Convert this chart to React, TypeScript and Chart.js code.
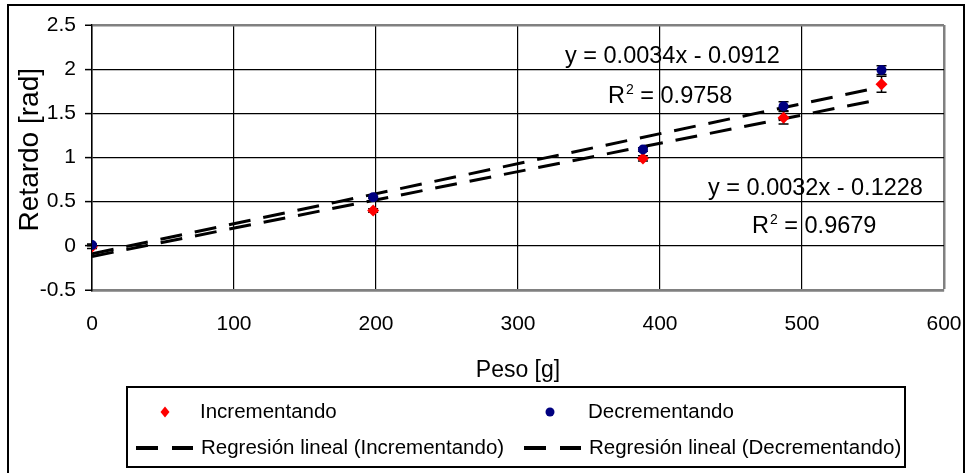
import React, { useEffect, useRef } from "react";
import { Chart, registerables } from "chart.js";

Chart.register(...registerables);

// ---- data ----
const weights = [0, 198, 388, 487, 556];
const incValues = [-0.01, 0.4, 0.99, 1.45, 1.83];
const decValues = [0.01, 0.55, 1.09, 1.58, 1.99];
const incErrors = [0.02, 0.02, 0.03, 0.07, 0.09];
const decErrors = [0.01, 0.01, 0.02, 0.05, 0.05];
const regX = [0, 556];
const regIncValues = [-0.12, 1.66];
const regDecValues = [-0.09, 1.8];
const yTickValues = [-0.5, 0, 0.5, 1, 1.5, 2, 2.5];
const yTickLabels = ["-0.5", "0", "0.5", "1", "1.5", "2", "2.5"];
const xTickValues = [0, 100, 200, 300, 400, 500, 600];
const xTickLabels = ["0", "100", "200", "300", "400", "500", "600"];
const seriesNames = [
  "Incrementando",
  "Decrementando",
  "Regresión lineal (Incrementando)",
  "Regresión lineal (Decrementando)",
];
const eqDec = ["y = 0.0034x - 0.0912", "0.9758"];
const eqInc = ["y = 0.0032x - 0.1228", "0.9679"];
const xTitle = "Peso [g]";
const yTitle = "Retardo [rad]";

const FONT = '"Liberation Sans", Arial, Helvetica, sans-serif';
const RED = "#ff0000";
const BLUE = "#000080";
const GRAY = "#808080";

function drawR2(ctx: CanvasRenderingContext2D, x: number, y: number, value: string, size: number) {
  ctx.textAlign = "left";
  ctx.textBaseline = "middle";
  ctx.font = `${size}px ${FONT}`;
  ctx.fillText("R", x, y);
  const w = ctx.measureText("R").width;
  const sup = Math.round(size * 0.6);
  ctx.font = `${sup}px ${FONT}`;
  ctx.fillText("2", x + w + 1, y - size * 0.3);
  const w2 = ctx.measureText("2").width;
  ctx.font = `${size}px ${FONT}`;
  ctx.fillText(" = " + value, x + w + 1 + w2, y);
}

const errorBarPlugin = {
  id: "errorBars",
  beforeDatasetsDraw(chart: any) {
    const { ctx, scales } = chart;
    const x = scales.x;
    const y = scales.y;
    ctx.save();
    ctx.strokeStyle = "#000";
    ctx.lineWidth = 1.5;
    const draw = (vals: number[], errs: number[]) => {
      weights.forEach((w, i) => {
        const px = x.getPixelForValue(w);
        const top = y.getPixelForValue(vals[i] + errs[i]);
        const bot = y.getPixelForValue(vals[i] - errs[i]);
        ctx.beginPath();
        ctx.moveTo(px, top);
        ctx.lineTo(px, bot);
        ctx.moveTo(px - 5, top);
        ctx.lineTo(px + 5, top);
        ctx.moveTo(px - 5, bot);
        ctx.lineTo(px + 5, bot);
        ctx.stroke();
      });
    };
    draw(incValues, incErrors);
    draw(decValues, decErrors);
    ctx.restore();
  },
};

const decorPlugin = {
  id: "decor",
  afterDraw(chart: any) {
    const ctx: CanvasRenderingContext2D = chart.ctx;
    ctx.save();
    ctx.fillStyle = "#000";

    // regression equations
    const eqSize = 23.5;
    ctx.font = `${eqSize}px ${FONT}`;
    ctx.textAlign = "left";
    ctx.textBaseline = "middle";
    ctx.fillText(eqDec[0], 565, 57);
    drawR2(ctx, 608, 97, eqDec[1], eqSize);
    ctx.font = `${eqSize}px ${FONT}`;
    ctx.fillText(eqInc[0], 708, 189);
    drawR2(ctx, 752, 227, eqInc[1], eqSize);

    // legend box
    ctx.strokeStyle = "#000";
    ctx.lineWidth = 2;
    ctx.strokeRect(127, 387, 905 - 127, 467 - 387);

    const r1 = 412;
    const r2 = 448;
    // red diamond
    ctx.fillStyle = RED;
    ctx.beginPath();
    ctx.moveTo(165, r1 - 5.5);
    ctx.lineTo(169.5, r1);
    ctx.lineTo(165, r1 + 5.5);
    ctx.lineTo(160.5, r1);
    ctx.closePath();
    ctx.fill();
    // blue circle
    ctx.fillStyle = BLUE;
    ctx.beginPath();
    ctx.arc(550, r1, 4.5, 0, Math.PI * 2);
    ctx.fill();
    // dashed samples
    ctx.strokeStyle = "#000";
    ctx.lineWidth = 4;
    ctx.beginPath();
    ctx.moveTo(136, r2);
    ctx.lineTo(158, r2);
    ctx.moveTo(172, r2);
    ctx.lineTo(193, r2);
    ctx.moveTo(524, r2);
    ctx.lineTo(546, r2);
    ctx.moveTo(560, r2);
    ctx.lineTo(581, r2);
    ctx.stroke();

    ctx.fillStyle = "#000";
    ctx.font = `20.5px ${FONT}`;
    ctx.textAlign = "left";
    ctx.textBaseline = "middle";
    ctx.fillText(seriesNames[0], 200, r1);
    ctx.fillText(seriesNames[1], 588, r1);
    ctx.fillText(seriesNames[2], 201, r2);
    ctx.fillText(seriesNames[3], 589, r2);

    // outer chart frame
    ctx.lineWidth = 2;
    ctx.strokeRect(8, 5, 964 - 8, 480);
    ctx.restore();
  },
};

export default function App() {
  const canvasRef = useRef<HTMLCanvasElement | null>(null);

  useEffect(() => {
    if (!canvasRef.current) return;
    const chart = new Chart(canvasRef.current, {
      type: "scatter",
      data: {
        datasets: [
          {
            label: seriesNames[1],
            data: weights.map((w, i) => ({ x: w, y: decValues[i] })),
            backgroundColor: BLUE,
            borderColor: BLUE,
            pointStyle: "circle",
            pointRadius: 5,
            borderWidth: 0,
          },
          {
            label: seriesNames[0],
            data: weights.map((w, i) => ({ x: w, y: incValues[i] })),
            backgroundColor: RED,
            borderColor: RED,
            pointStyle: "rectRot",
            pointRadius: 6,
            borderWidth: 0,
          },
          {
            label: seriesNames[2],
            data: regX.map((w, i) => ({ x: w, y: regIncValues[i] })),
            showLine: true,
            borderColor: "#000",
            borderWidth: 3,
            borderDash: [22, 13],
            pointRadius: 0,
          },
          {
            label: seriesNames[3],
            data: regX.map((w, i) => ({ x: w, y: regDecValues[i] })),
            showLine: true,
            borderColor: "#000",
            borderWidth: 3,
            borderDash: [22, 13],
            pointRadius: 0,
          },
        ],
      },
      options: {
        animation: false,
        responsive: false,
        devicePixelRatio: 1,
        layout: { padding: { left: 0, right: 24, top: 25, bottom: 0 } },
        plugins: {
          legend: { display: false },
          tooltip: { enabled: false },
        },
        scales: {
          x: {
            type: "linear",
            min: 0,
            max: 600,
            afterBuildTicks: (scale: any) => {
              scale.ticks = xTickValues.map((v) => ({ value: v }));
            },
            afterFit: (scale: any) => {
              scale.height = 473 - 290;
              scale.paddingLeft = 0;
              scale.paddingRight = 0;
            },
            ticks: {
              color: "#000",
              font: { family: FONT, size: 21 },
              padding: 22,
              maxRotation: 0,
              callback: (v: any) => xTickLabels[xTickValues.indexOf(Number(v))] ?? "",
            },
            grid: {
              drawTicks: false,
              color: (c: any) => (c.tick && c.tick.value === 600 ? GRAY : "#000"),
              lineWidth: (c: any) => (c.tick && c.tick.value === 600 ? 2.5 : 1.2),
            },
            border: { display: true, color: GRAY, width: 2.5 },
            title: {
              display: true,
              text: xTitle,
              color: "#000",
              font: { family: FONT, size: 23 },
              padding: { top: 0, bottom: 89 },
            },
          },
          y: {
            type: "linear",
            min: -0.5,
            max: 2.5,
            afterBuildTicks: (scale: any) => {
              scale.ticks = yTickValues.map((v) => ({ value: v }));
            },
            afterFit: (scale: any) => {
              scale.width = 92;
              scale.paddingTop = 0;
              scale.paddingBottom = 0;
            },
            ticks: {
              color: "#000",
              font: { family: FONT, size: 21 },
              padding: 9,
              callback: (v: any) => yTickLabels[yTickValues.indexOf(Number(v))] ?? "",
            },
            grid: {
              drawTicks: true,
              tickLength: 7,
              tickColor: "#000",
              tickWidth: 1.5,
              color: (c: any) =>
                c.tick && (c.tick.value === 2.5 || c.tick.value === -0.5) ? GRAY : "#000",
              lineWidth: (c: any) =>
                c.tick && (c.tick.value === 2.5 || c.tick.value === -0.5) ? 2.5 : 1.2,
            },
            border: { display: true, color: "#000", width: 1.5 },
            title: {
              display: true,
              text: "  " + yTitle,
              color: "#000",
              font: { family: FONT, size: 28 },
              padding: { top: 13, bottom: 0 },
            },
          },
        },
      },
      plugins: [errorBarPlugin, decorPlugin],
    } as any);
    return () => chart.destroy();
  }, []);

  return (
    <div
      style={{
        position: "fixed",
        left: 0,
        top: 0,
        width: 968,
        height: 473,
        background: "#fff",
        overflow: "hidden",
      }}
    >
      <canvas ref={canvasRef} width={968} height={473} style={{ display: "block" }} />
    </div>
  );
}
